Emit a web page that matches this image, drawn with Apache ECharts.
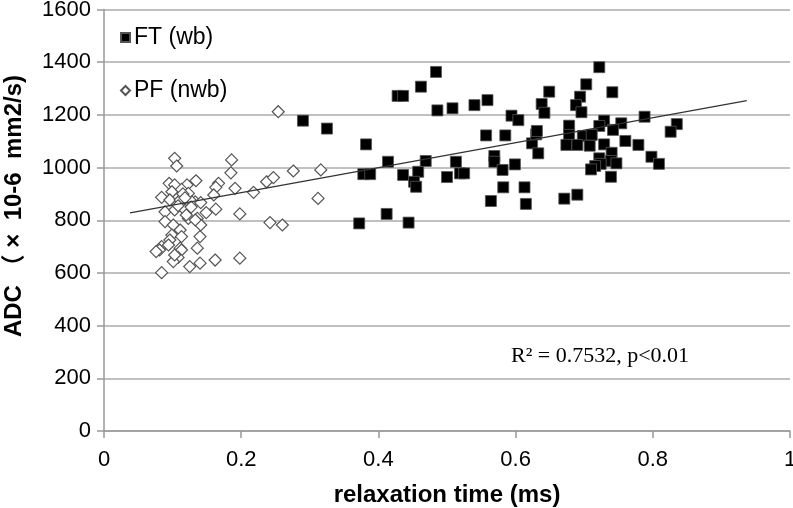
<!DOCTYPE html>
<html>
<head>
<meta charset="utf-8">
<script src="https://cdn.jsdelivr.net/npm/echarts@6/dist/echarts.min.js"></script>
<style>html,body{margin:0;padding:0;background:#fff}#c{width:793px;height:508px}</style>
</head>
<body>
<div id="c"></div>
<script>
const xTicks = [0, 0.2, 0.4, 0.6, 0.8, 1];
const yTicks = [0, 200, 400, 600, 800, 1000, 1200, 1400, 1600];
const seriesNames = ['FT (wb)', 'PF (nwb)'];
const xAxisTitle = 'relaxation time (ms)';
const yAxisTitle = 'ADC （ ×  10-6  mm2/s)';
const statText = 'R² = 0.7532, p<0.01';

const ftData = [
  [0.290,1178],[0.325,1148],[0.382,1088],[0.378,975],[0.388,975],[0.372,788],[0.412,824],[0.444,791],
  [0.414,1022],[0.436,972],[0.458,984],[0.452,946],[0.455,927],[0.469,1025],[0.428,1272],[0.436,1272],
  [0.462,1307],[0.484,1363],[0.486,1217],[0.508,1225],[0.540,1237],[0.559,1256],[0.500,964],[0.513,1022],
  [0.519,978],[0.525,978],[0.557,1122],[0.585,1122],[0.569,1044],[0.569,1022],[0.581,991],[0.599,1012],
  [0.582,925],[0.613,925],[0.564,873],[0.615,862],[0.594,1197],[0.604,1180],[0.624,1092],[0.630,1126],
  [0.633,1054],[0.722,1381],[0.703,1316],[0.649,1288],[0.741,1286],[0.694,1269],[0.638,1241],[0.688,1237],
  [0.642,1208],[0.696,1210],[0.788,1193],[0.729,1178],[0.754,1168],[0.678,1159],[0.722,1158],[0.742,1143],
  [0.631,1139],[0.678,1124],[0.698,1120],[0.711,1124],[0.674,1086],[0.690,1086],[0.708,1083],[0.729,1088],
  [0.760,1101],[0.779,1086],[0.740,1056],[0.722,1035],[0.739,1025],[0.747,1016],[0.724,1014],[0.716,1006],
  [0.710,993],[0.798,1041],[0.809,1014],[0.739,965],[0.671,882],[0.690,897],[0.835,1165],[0.826,1136]
];

const pfData = [
  [0.254,1212],[0.186,1029],[0.185,980],[0.134,950],[0.167,940],[0.163,925],[0.191,921],[0.160,896],
  [0.218,906],[0.237,946],[0.247,962],[0.276,987],[0.316,991],[0.312,883],[0.149,829],[0.163,842],
  [0.198,824],[0.242,791],[0.260,782],[0.140,738],[0.136,694],[0.140,637],[0.162,649],[0.198,656],
  [0.136,807],[0.141,782],[0.133,870],[0.103,1035],[0.106,1006],[0.095,940],[0.103,934],[0.121,934],
  [0.084,887],[0.099,908],[0.113,917],[0.123,902],[0.096,877],[0.111,877],[0.128,870],[0.141,867],
  [0.089,832],[0.103,839],[0.118,839],[0.123,807],[0.133,801],[0.089,795],[0.101,782],[0.111,763],
  [0.099,744],[0.113,738],[0.096,725],[0.084,700],[0.081,687],[0.094,706],[0.111,694],[0.076,681],
  [0.113,687],[0.108,659],[0.101,643],[0.103,668],[0.125,624],[0.084,601],[0.115,900],[0.118,885],
  [0.108,855],[0.120,820],[0.127,850]
];

const trendLine = [[0.038, 828], [0.937, 1254]];

const chart = echarts.init(document.getElementById('c'), null, {renderer: 'canvas'});
const sans = 'Liberation Sans, Arial, sans-serif';
const tickFont = {fontFamily: sans, fontSize: 22, color: '#000'};

chart.setOption({
  animation: false,
  backgroundColor: '#fff',
  grid: {left: 104, right: 3, top: 9.5, bottom: 77, outerBoundsMode: 'none', containLabel: false},
  legend: {
    orient: 'vertical', left: 115, top: 21, itemGap: 30,
    itemWidth: 9, itemHeight: 9,
    data: [
      {name: seriesNames[0], icon: 'rect', itemStyle: {color: '#000', opacity: 1}},
      {name: seriesNames[1], icon: 'diamond'}
    ],
    textStyle: {fontFamily: sans, fontSize: 23, color: '#000', padding: [0,0,0,-1]}
  },
  xAxis: {
    type: 'value', min: xTicks[0], max: xTicks[xTicks.length-1], interval: 0.2,
    axisLine: {show: true, lineStyle: {color: '#999', width: 1.5}},
    axisTick: {show: true, length: 7, lineStyle: {color: '#999', width: 1.5}},
    axisLabel: Object.assign({margin: 18, formatter: v => String(v)}, tickFont),
    splitLine: {show: false},
    name: xAxisTitle, nameLocation: 'middle', nameGap: 52,
    nameTextStyle: {fontFamily: sans, fontSize: 24, fontWeight: 'bold', color: '#000'}
  },
  yAxis: {
    type: 'value', min: yTicks[0], max: yTicks[yTicks.length-1], interval: 200,
    axisLine: {show: true, lineStyle: {color: '#999', width: 1.5}},
    axisTick: {show: true, length: 7, lineStyle: {color: '#999', width: 1.5}},
    axisLabel: Object.assign({margin: 13, formatter: v => String(v)}, tickFont),
    splitLine: {show: true, lineStyle: {color: '#ababab', width: 1.5}}
  },
  graphic: [
    {type: 'text', x: 14, y: 206, rotation: Math.PI/2,
     style: {text: yAxisTitle, fontFamily: 'Liberation Sans, Arial, "Noto Sans CJK SC", sans-serif', fontSize: 24, fontWeight: 'bold', fill: '#000', align: 'center', verticalAlign: 'middle'}},
    {type: 'text', x: 600, y: 356,
     style: {text: statText, fontFamily: 'Liberation Serif, Times New Roman, serif', fontSize: 22, fill: '#000', align: 'center', verticalAlign: 'middle'}}
  ],
  series: [
    {name: seriesNames[0], type: 'scatter', symbol: 'rect', symbolSize: 11, data: ftData,
     itemStyle: {color: '#000', borderColor: '#555', borderWidth: 0.8, opacity: 1}, z: 3},
    {name: seriesNames[1], type: 'scatter', symbol: 'diamond', symbolSize: 12, data: pfData,
     itemStyle: {color: '#fff', borderColor: '#555', borderWidth: 1.2, opacity: 1}, z: 2},
    {name: 'trend', type: 'line', data: trendLine, symbol: 'none', silent: true,
     lineStyle: {color: '#333', width: 1.3}, z: 4}
  ]
});
</script>
</body>
</html>
